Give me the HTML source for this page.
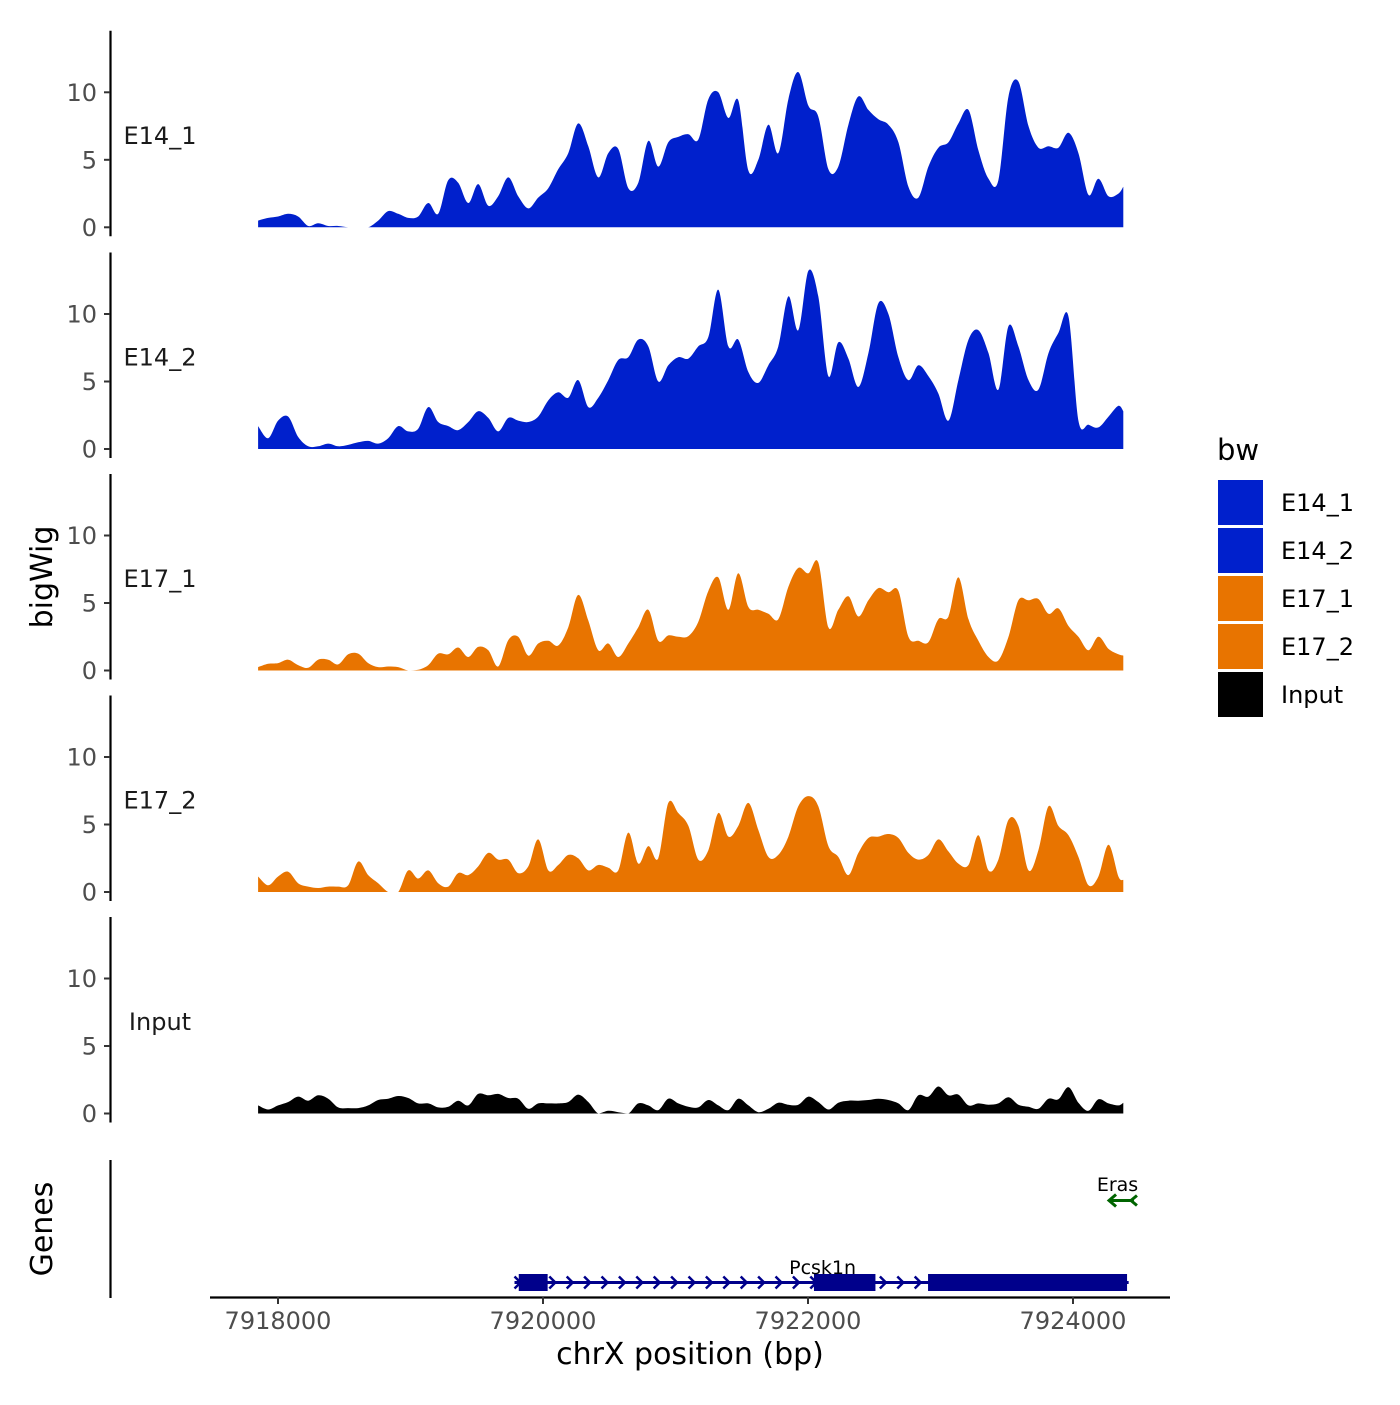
<!DOCTYPE html>
<html><head><meta charset="utf-8"><style>
body{margin:0;background:#fff}
svg text{font-family:"DejaVu Sans","Liberation Sans",sans-serif}
</style></head><body>
<svg id="chart" width="1400" height="1400" viewBox="0 0 1400 1400" xmlns="http://www.w3.org/2000/svg">
<rect width="1400" height="1400" fill="#fff"/>
<g id="tracks"></g>
<g id="genes"></g>
<g id="axes"></g>
</svg>
<script>
const positions=[7917850,7917926,7918001,7918077,7918152,7918228,7918303,7918379,7918454,7918530,7918605,7918681,7918756,7918832,7918907,7918983,7919058,7919134,7919209,7919285,7919360,7919436,7919511,7919587,7919662,7919738,7919813,7919889,7919964,7920040,7920115,7920191,7920266,7920342,7920417,7920493,7920568,7920644,7920719,7920795,7920870,7920946,7921021,7921097,7921172,7921248,7921323,7921399,7921474,7921550,7921625,7921701,7921776,7921852,7921927,7922003,7922078,7922154,7922229,7922305,7922380,7922456,7922531,7922607,7922682,7922758,7922833,7922909,7922984,7923060,7923135,7923211,7923286,7923362,7923437,7923513,7923588,7923664,7923739,7923815,7923890,7923966,7924041,7924117,7924192,7924268,7924343,7924380];
const trackNames=["E14_1","E14_2","E17_1","E17_2","Input"];
const trackColors=["#0020cc","#0020cc","#e87400","#e87400","#000000"];
const e14_1=[0.5,0.7,0.8,1.0,0.8,0.1,0.3,0.1,0.1,0,0,0,0.5,1.2,1.0,0.7,0.8,1.8,1.0,3.5,3.3,1.8,3.2,1.6,2.3,3.7,2.3,1.4,2.2,2.9,4.3,5.5,7.7,6.0,3.7,5.5,5.8,2.9,3.3,6.4,4.5,6.3,6.7,6.9,6.5,9.5,10.0,8.1,9.4,4.2,5.0,7.6,5.5,9.5,11.5,9.0,8.2,4.3,4.5,7.6,9.7,8.7,8.0,7.6,6.3,3.0,2.2,4.5,5.9,6.3,7.7,8.7,5.7,3.6,3.5,9.7,10.8,7.5,5.9,6.0,5.9,7.0,5.5,2.4,3.6,2.3,2.5,3.0];
const e14_2=[1.7,0.8,2.1,2.4,0.9,0.2,0.2,0.4,0.2,0.3,0.5,0.6,0.4,0.8,1.7,1.3,1.5,3.1,2.0,1.7,1.4,2.0,2.8,2.3,1.3,2.3,2.1,2.0,2.4,3.6,4.2,3.8,5.1,3.1,3.8,5.1,6.6,6.8,8.1,7.6,5.0,6.2,6.8,6.7,7.6,8.3,11.8,7.6,8.1,5.7,4.9,6.2,7.6,11.3,8.8,13.2,11.3,5.4,7.9,6.7,4.6,7.1,10.8,10.0,6.8,5.1,6.2,5.4,4.1,2.1,5.1,8.1,8.8,7.1,4.4,9.1,7.6,5.1,4.4,7.1,8.6,9.8,2.1,1.8,1.6,2.4,3.2,2.8];
const e17_1=[0.25,0.5,0.55,0.8,0.4,0.2,0.8,0.8,0.45,1.2,1.25,0.55,0.25,0.3,0.25,0,0.05,0.4,1.25,1.2,1.7,1.0,1.75,1.5,0.3,2.25,2.5,1.1,2.0,2.2,1.85,3.2,5.6,3.7,1.5,2.0,1.0,2.0,3.2,4.5,2.2,2.6,2.5,2.55,3.6,5.9,6.9,4.5,7.2,4.7,4.5,4.2,3.8,6.2,7.6,7.2,8.0,3.2,4.5,5.5,4.0,5.2,6.1,5.8,5.9,2.5,2.2,2.1,3.8,4.0,6.9,3.8,2.2,1.0,0.75,2.5,5.2,5.2,5.3,4.2,4.6,3.3,2.5,1.5,2.5,1.6,1.2,1.1];
const e17_2=[1.15,0.5,1.15,1.5,0.65,0.4,0.3,0.4,0.4,0.5,2.25,1.25,0.65,0,0,1.6,1.0,1.6,0.65,0.4,1.4,1.25,1.9,2.9,2.4,2.4,1.4,1.9,3.9,1.6,2.0,2.75,2.5,1.6,2.0,1.8,1.6,4.4,2.1,3.4,2.5,6.6,5.85,4.9,2.4,3.1,5.85,4.1,4.9,6.6,4.6,2.6,2.75,4.1,6.35,7.1,6.35,3.4,2.6,1.25,2.9,4.0,4.1,4.3,4.0,2.9,2.4,2.75,3.9,3.0,2.1,2.0,4.2,1.6,2.4,5.35,4.9,1.6,3.1,6.35,4.9,4.2,2.6,0.5,1.15,3.5,1.15,0.9];
const input=[0.6,0.3,0.6,0.85,1.25,0.95,1.35,1.1,0.45,0.4,0.4,0.6,1.0,1.1,1.3,1.15,0.75,0.75,0.45,0.5,0.95,0.6,1.45,1.35,1.45,1.15,1.1,0.35,0.75,0.75,0.75,0.85,1.4,0.85,0,0.2,0.1,0,0.75,0.6,0.25,1.1,0.75,0.5,0.45,1.0,0.6,0.25,1.1,0.6,0.1,0.35,0.8,0.65,0.65,1.25,0.85,0.3,0.8,0.95,0.95,1.0,1.1,1.0,0.75,0.25,1.35,1.25,2.0,1.35,1.4,0.6,0.75,0.65,0.75,1.2,0.65,0.5,0.35,1.1,1.05,1.95,0.8,0.2,1.05,0.75,0.6,0.8];
const seriesList=[e14_1,e14_2,e17_1,e17_2,input];
const yTicks=[0,5,10];
const xTicks=[7918000,7920000,7922000,7924000];
const xTickLabels=["7918000","7920000","7922000","7924000"];
const geneNames=["Pcsk1n","Eras"];
const pcskSpan=[7919785,7924420];
const pcskExonStarts=[7919817,7922045,7922906];
const pcskExonEnds=[7920035,7922509,7924408];
const erasSpan=[7924272,7924460];

const NS="http://www.w3.org/2000/svg";
function mk(tag,attrs,parent,txt){const e=document.createElementNS(NS,tag);for(const k in attrs)e.setAttribute(k,attrs[k]);if(txt!==undefined)e.textContent=txt;parent.appendChild(e);return e;}
const xs=bp=>278+(bp-7918000)*0.1325;
const baselines=[227.3,449,670.5,892,1113.5];
const yUnit=13.5;
const tracks=document.getElementById('tracks');
const axes=document.getElementById('axes');
seriesList.forEach((vals,t)=>{
  const b=baselines[t];
  const ys=v=>b-v*yUnit;
  const pts=vals.map((v,i)=>[xs(positions[i]),ys(v)]);
  let d=`M${pts[0][0].toFixed(1)},${b} L${pts[0][0].toFixed(1)},${pts[0][1].toFixed(1)}`;
  for(let i=0;i<pts.length-1;i++){
    const p0=pts[Math.max(0,i-1)],p1=pts[i],p2=pts[i+1],p3=pts[Math.min(pts.length-1,i+2)];
    const c1x=p1[0]+(p2[0]-p0[0])/6,c1y=Math.min(b,p1[1]+(p2[1]-p0[1])/6);
    const c2x=p2[0]-(p3[0]-p1[0])/6,c2y=Math.min(b,p2[1]-(p3[1]-p1[1])/6);
    d+=` C${c1x.toFixed(1)},${c1y.toFixed(1)} ${c2x.toFixed(1)},${c2y.toFixed(1)} ${p2[0].toFixed(1)},${p2[1].toFixed(1)}`;
  }
  d+=` L${pts[pts.length-1][0].toFixed(1)},${b} Z`;
  const p=mk('path',{d:d,fill:trackColors[t]},tracks);
  
  
  const ax=mk('line',{x1:110.5,x2:110.5,y1:b-196.5,y2:b+9,stroke:'#000','stroke-width':2.2},axes);
  
  
  yTicks.forEach(tv=>{
    const tk=mk('line',{x1:104,x2:110,y1:ys(tv),y2:ys(tv),stroke:'#333','stroke-width':2},axes);
    
    
    const tl=mk('text',{x:97,y:ys(tv)+8.5,'text-anchor':'end','font-size':24,fill:'#4d4d4d'},axes,String(tv));
    
    
  });
  const lab=mk('text',{x:160,y:b-92+8.5,'text-anchor':'middle','font-size':24,fill:'#1a1a1a'},axes,trackNames[t]);
  
  
});
// gene track
const genes=document.getElementById('genes');
const gy=1282.5;
let l=mk('line',{x1:xs(pcskSpan[0]),x2:xs(pcskSpan[1]),y1:gy,y2:gy,stroke:'#00008b','stroke-width':3},genes);


for(let x=xs(pcskSpan[0])+3;x<xs(pcskSpan[1])-5;x+=17.4){
  const c=mk('polyline',{points:`${x-3},${gy-6} ${x+3},${gy} ${x-3},${gy+6}`,fill:'none',stroke:'#00008b','stroke-width':2.5},genes);
  
  
}
pcskExonStarts.forEach((s,i)=>{
  const r=mk('rect',{x:xs(s),y:1274,width:xs(pcskExonEnds[i])-xs(s),height:17,fill:'#00008b'},genes);
  
  
});
let t1=mk('text',{x:(xs(pcskSpan[0])+xs(pcskSpan[1]))/2+1,y:1274,'text-anchor':'middle','font-size':19,fill:'#000'},genes,geneNames[0]);


const ey=1200.5;
let ea=mk('path',{d:`M${xs(erasSpan[0])},${ey} L${xs(erasSpan[1])},${ey} M${xs(erasSpan[0])+7},${ey-6} L${xs(erasSpan[0])},${ey} L${xs(erasSpan[0])+7},${ey+6} M${xs(erasSpan[1])+3},${ey-5} L${xs(erasSpan[1])-3},${ey} L${xs(erasSpan[1])+3},${ey+5}`,fill:'none',stroke:'#006400','stroke-width':3},genes);


let t2=mk('text',{x:(xs(erasSpan[0])+xs(erasSpan[1]))/2-4,y:1191,'text-anchor':'middle','font-size':19,fill:'#000'},genes,geneNames[1]);


let ga=mk('line',{x1:110.5,x2:110.5,y1:1160,y2:1298,stroke:'#000','stroke-width':2.2},axes);


let xa=mk('line',{x1:210,x2:1170,y1:1297.5,y2:1297.5,stroke:'#000','stroke-width':2.2},axes);


xTicks.forEach((tv,i)=>{
  const tk=mk('line',{x1:xs(tv),x2:xs(tv),y1:1297,y2:1304,stroke:'#333','stroke-width':2},axes);
  
  
  const tl=mk('text',{x:xs(tv),y:1329,'text-anchor':'middle','font-size':24,fill:'#4d4d4d'},axes,xTickLabels[i]);
  
  
});
let xt=mk('text',{x:690,y:1364,'text-anchor':'middle','font-size':30,fill:'#000'},axes,'chrX position (bp)');


let yt=mk('text',{x:0,y:0,transform:'translate(52,577) rotate(-90)','text-anchor':'middle','font-size':30,fill:'#000'},axes,'bigWig');


let gt=mk('text',{x:0,y:0,transform:'translate(52,1229) rotate(-90)','text-anchor':'middle','font-size':30,fill:'#000'},axes,'Genes');


// legend
let lt=mk('text',{x:1217,y:460,'font-size':29,fill:'#000'},axes,'bw');


trackNames.forEach((n,i)=>{
  const y0=480+i*48;
  const r=mk('rect',{x:1218,y:y0,width:45,height:45,fill:trackColors[i]},axes);
  
  
  const tx=mk('text',{x:1281,y:y0+31,'font-size':24,fill:'#000'},axes,n);
  
  
});
</script>
</body></html>
